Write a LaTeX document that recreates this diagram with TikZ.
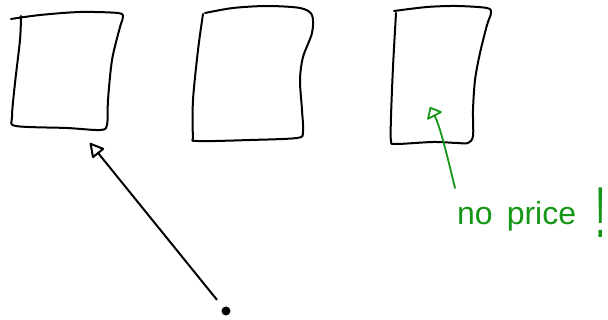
\documentclass[tikz,border=0pt]{standalone}
\usepackage{fontspec}
\setmainfont{Liberation Sans}
\usetikzlibrary{arrows.meta}
\definecolor{gpen}{RGB}{22,150,22}
\tikzset{
  sketch/.style={line width=2pt, line join=round, line cap=round, draw=black},
  gsketch/.style={line width=1.8pt, line join=round, line cap=round, draw=gpen},
  hand/.style={font=\fontsize{32}{32}\selectfont, text=gpen, inner sep=0pt},
}
\begin{document}
\begin{tikzpicture}[x=1pt,y=-1pt]
\fill[white] (0,0) rectangle (608,320);
\useasboundingbox (0,0) rectangle (608,320);
% box 1
\draw[sketch] plot[smooth, tension=0.5] coordinates {(11,19) (40,15) (80,12) (118,13) (123,17) (120,27) (112,60) (108,100) (107,125) (100,130) (67,128) (16,126) (12,117) (15,83) (20,40) (21,16)};
% box 2
\draw[sketch] plot[smooth, tension=0.5] coordinates {(205,13) (233,8) (267,6) (300,8) (312,15) (312,33) (303,57) (300,80) (302,110) (303,132) (297,138) (250,140) (197,141) (193,136) (193,100) (198,50) (203,14)};
% box 3
\draw[sketch] plot[smooth, tension=0.5] coordinates {(394,11) (427,7) (457,6) (487,8) (491,13) (487,25) (480,53) (475,80) (473,110) (473,136) (468,143) (457,143) (433,142) (396,144) (391,141) (391,117) (393,67) (396,13)};
% black arrow
\node[circle, fill=black, inner sep=0pt, minimum size=9pt] (src) at (226,311) {};
\coordinate (b1tip) at (90,143);
\draw[sketch, shorten <=10pt, -{Triangle[open, length=15pt, width=16pt, line join=round]}] (src) -- (b1tip);
% green label and arrow
\node[hand, anchor=base west] (noprice) at (457,225) {no\hspace{14pt}price};
\node[hand, anchor=base west, font=\fontsize{38}{38}\selectfont, yscale=1.9, transform shape] (bang) at (595,238) {!};
\coordinate (gtail) at (455,188);
\coordinate (ghead) at (430,107);
\draw[gsketch, -{Triangle[open, length=11pt, width=18pt, line join=round]}] (gtail) .. controls (447,155) and (440,126) .. (ghead);
\end{tikzpicture}
\end{document}
